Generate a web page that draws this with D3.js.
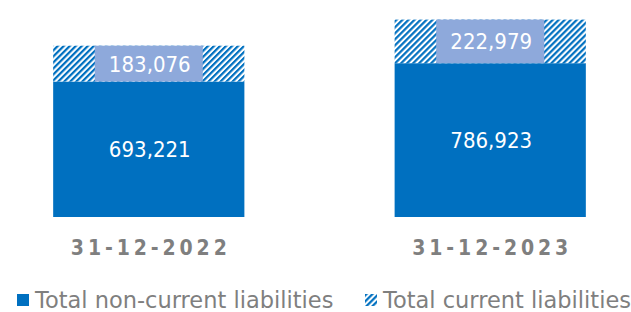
<!DOCTYPE html>
<html>
<head>
<meta charset="utf-8">
<script src="https://cdn.jsdelivr.net/npm/d3@7"></script>
<style>
  html, body { margin: 0; padding: 0; background: #fff; }
  svg { display: block; }
</style>
</head>
<body>
<div id="chart"></div>
<script>
// Data
const categories = ["31-12-2022", "31-12-2023"];
const seriesKeys = ["nonCurrent", "current"];
const seriesNames = ["Total non-current liabilities", "Total current liabilities"];
const nonCurrent = [693221, 786923];
const current = [183076, 222979];

const data = categories.map((c, i) => ({ cat: c, nonCurrent: nonCurrent[i], current: current[i] }));

const width = 631;
const height = 312;
const baseY = 217;

const blue = "#0070C0";
const boxColor = "#8EA9DB";
const grey = "#7F7F7F";

const svg = d3.select("#chart").append("svg")
    .attr("width", width)
    .attr("height", height)
    .attr("viewBox", [0, 0, width, height]);

// diagonal hatch for current liabilities
const defs = svg.append("defs");
const pat = defs.append("pattern")
    .attr("id", "hatch")
    .attr("patternUnits", "userSpaceOnUse")
    .attr("width", 4.25)
    .attr("height", 4.25)
    .attr("patternTransform", "rotate(45)");
pat.append("rect").attr("width", 4.25).attr("height", 4.25).attr("fill", "#fff");
pat.append("rect").attr("width", 2.2).attr("height", 4.25).attr("fill", blue);

const x = d3.scaleBand()
    .domain(categories)
    .range([4, 635])
    .paddingInner(0.44)
    .paddingOuter(0.144);

const y = d3.scaleLinear()
    .domain([0, 1100000])
    .range([baseY, 2]);

const stacked = d3.stack().keys(seriesKeys)(data);
const fills = { nonCurrent: blue, current: "url(#hatch)" };

svg.append("g")
    .selectAll("g")
    .data(stacked)
    .join("g")
    .attr("fill", d => fills[d.key])
    .selectAll("rect")
    .data(d => d)
    .join("rect")
    .attr("x", d => x(d.data.cat))
    .attr("y", d => y(d[1]))
    .attr("height", d => y(d[0]) - y(d[1]))
    .attr("width", x.bandwidth());

const fmt = d3.format(",");
const valueFont = "'DejaVu Sans Condensed', 'DejaVu Sans', sans-serif";

// value labels on the blue part
svg.append("g")
    .selectAll("text")
    .data(stacked[0])
    .join("text")
    .attr("x", d => x(d.data.cat) + x.bandwidth() / 2 + 1)
    .attr("y", d => (y(d[0]) + y(d[1])) / 2 + 8)
    .attr("text-anchor", "middle")
    .attr("fill", "#fff")
    .attr("font-family", valueFont)
    .attr("font-size", 22)
    .text(d => fmt(d.data.nonCurrent));

// value labels with boxes on the hatched part
const boxW = 108;
const lab = svg.append("g")
    .selectAll("g")
    .data(stacked[1])
    .join("g");

lab.append("rect")
    .attr("x", d => x(d.data.cat) + x.bandwidth() / 2 - boxW / 2)
    .attr("y", d => y(d[1]))
    .attr("width", boxW)
    .attr("height", d => y(d[0]) - y(d[1]))
    .attr("fill", boxColor);

lab.append("text")
    .attr("x", d => x(d.data.cat) + x.bandwidth() / 2 + 1)
    .attr("y", d => (y(d[0]) + y(d[1])) / 2 + 8)
    .attr("text-anchor", "middle")
    .attr("fill", "#fff")
    .attr("font-family", valueFont)
    .attr("font-size", 22)
    .text(d => fmt(d.data.current));

// category labels
svg.append("g")
    .selectAll("text")
    .data(categories)
    .join("text")
    .attr("x", d => x(d) + x.bandwidth() / 2 + 2)
    .attr("y", 254.5)
    .attr("text-anchor", "middle")
    .attr("fill", grey)
    .attr("font-family", "'DejaVu Sans Condensed', 'DejaVu Sans', sans-serif")
    .attr("font-weight", "bold")
    .attr("font-size", 21)
    .attr("letter-spacing", 3.9)
    .text(d => d);

// legend
const legendX = [17, 365];
const legend = svg.append("g")
    .selectAll("g")
    .data(seriesKeys)
    .join("g")
    .attr("transform", (d, i) => `translate(${legendX[i]},294)`);

legend.append("rect")
    .attr("width", 12)
    .attr("height", 12)
    .attr("fill", d => fills[d]);

legend.append("text")
    .attr("x", 18)
    .attr("y", 13.5)
    .attr("fill", grey)
    .attr("font-family", "'DejaVu Sans', sans-serif")
    .attr("font-size", 22.5)
    .text((d, i) => seriesNames[i]);
</script>
</body>
</html>
